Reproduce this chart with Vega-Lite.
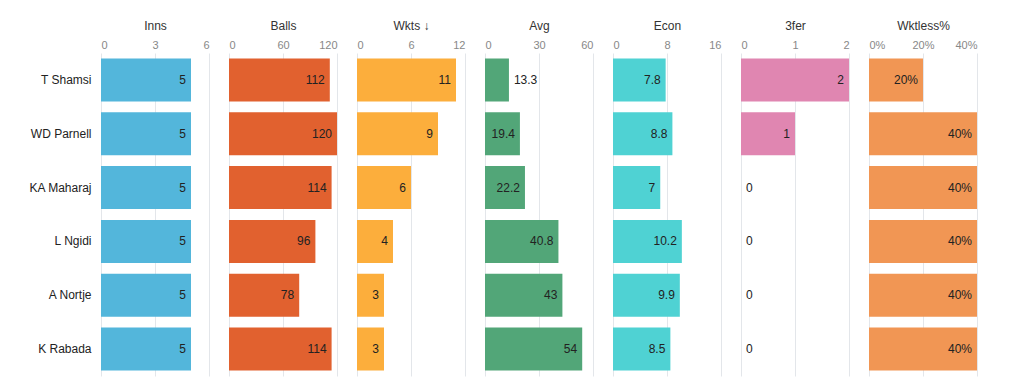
{
  "$schema": "https://vega.github.io/schema/vega-lite/v6.json",
  "padding": {"left": 5, "top": 19, "right": 5, "bottom": 5},
  "data": {"values": [
    {"Player": "T Shamsi", "Inns": 5, "Balls": 112, "Wkts": 11, "Avg": 13.3, "Econ": 7.8, "Threefer": 2, "Wktless": 0.2},
    {"Player": "WD Parnell", "Inns": 5, "Balls": 120, "Wkts": 9, "Avg": 19.4, "Econ": 8.8, "Threefer": 1, "Wktless": 0.4},
    {"Player": "KA Maharaj", "Inns": 5, "Balls": 114, "Wkts": 6, "Avg": 22.2, "Econ": 7, "Threefer": 0, "Wktless": 0.4},
    {"Player": "L Ngidi", "Inns": 5, "Balls": 96, "Wkts": 4, "Avg": 40.8, "Econ": 10.2, "Threefer": 0, "Wktless": 0.4},
    {"Player": "A Nortje", "Inns": 5, "Balls": 78, "Wkts": 3, "Avg": 43, "Econ": 9.9, "Threefer": 0, "Wktless": 0.4},
    {"Player": "K Rabada", "Inns": 5, "Balls": 114, "Wkts": 3, "Avg": 54, "Econ": 8.5, "Threefer": 0, "Wktless": 0.4}
  ]},
  "spacing": 20,
  "hconcat": [
    {
      "width": 108, "height": 323,
      "encoding": {"y": {"field": "Player", "type": "nominal", "sort": null, "axis": {"title": null, "ticks": false, "domain": false, "labelPadding": 10, "labelFontSize": 12, "labelColor": "#222", "minExtent": 96}}},
      "layer": [
        {"mark": {"type": "bar", "color": "#53b6db"}, "encoding": {"x": {"field": "Inns", "type": "quantitative", "scale": {"domain": [0, 6]}, "axis": {"values": [0, 3, 6], "title": "Inns"}}}},
        {"mark": {"type": "text", "align": "right", "dx": -5}, "encoding": {"x": {"field": "Inns", "type": "quantitative"}, "text": {"field": "Inns", "type": "quantitative"}}}
      ]
    },
    {
      "width": 108, "height": 323,
      "encoding": {"y": {"field": "Player", "type": "nominal", "sort": null, "axis": null}},
      "layer": [
        {"mark": {"type": "bar", "color": "#e1612f"}, "encoding": {"x": {"field": "Balls", "type": "quantitative", "scale": {"domain": [0, 120]}, "axis": {"values": [0, 60, 120], "title": "Balls"}}}},
        {"mark": {"type": "text", "align": "right", "dx": -5}, "encoding": {"x": {"field": "Balls", "type": "quantitative"}, "text": {"field": "Balls", "type": "quantitative"}}}
      ]
    },
    {
      "width": 108, "height": 323,
      "encoding": {"y": {"field": "Player", "type": "nominal", "sort": null, "axis": null}},
      "layer": [
        {"mark": {"type": "bar", "color": "#fcae3c"}, "encoding": {"x": {"field": "Wkts", "type": "quantitative", "scale": {"domain": [0, 12]}, "axis": {"values": [0, 6, 12], "title": "Wkts ↓"}}}},
        {"mark": {"type": "text", "align": "right", "dx": -5}, "encoding": {"x": {"field": "Wkts", "type": "quantitative"}, "text": {"field": "Wkts", "type": "quantitative"}}}
      ]
    },
    {
      "width": 108, "height": 323,
      "encoding": {"y": {"field": "Player", "type": "nominal", "sort": null, "axis": null}},
      "layer": [
        {"mark": {"type": "bar", "color": "#52a678"}, "encoding": {"x": {"field": "Avg", "type": "quantitative", "scale": {"domain": [0, 60]}, "axis": {"values": [0, 30, 60], "title": "Avg"}}}},
        {"transform": [{"filter": "datum.Avg >= 15"}], "mark": {"type": "text", "align": "right", "dx": -5}, "encoding": {"x": {"field": "Avg", "type": "quantitative"}, "text": {"field": "Avg", "type": "quantitative"}}},
        {"transform": [{"filter": "datum.Avg < 15"}], "mark": {"type": "text", "align": "left", "dx": 5}, "encoding": {"x": {"field": "Avg", "type": "quantitative"}, "text": {"field": "Avg", "type": "quantitative"}}}
      ]
    },
    {
      "width": 108, "height": 323,
      "encoding": {"y": {"field": "Player", "type": "nominal", "sort": null, "axis": null}},
      "layer": [
        {"mark": {"type": "bar", "color": "#4fd2d3"}, "encoding": {"x": {"field": "Econ", "type": "quantitative", "scale": {"domain": [0, 16]}, "axis": {"values": [0, 8, 16], "title": "Econ"}}}},
        {"mark": {"type": "text", "align": "right", "dx": -5}, "encoding": {"x": {"field": "Econ", "type": "quantitative"}, "text": {"field": "Econ", "type": "quantitative"}}}
      ]
    },
    {
      "width": 108, "height": 323,
      "encoding": {"y": {"field": "Player", "type": "nominal", "sort": null, "axis": null}},
      "layer": [
        {"mark": {"type": "bar", "color": "#e086b1"}, "encoding": {"x": {"field": "Threefer", "type": "quantitative", "scale": {"domain": [0, 2]}, "axis": {"values": [0, 1, 2], "format": ".0f", "title": "3fer"}}}},
        {"transform": [{"filter": "datum.Threefer > 0"}], "mark": {"type": "text", "align": "right", "dx": -5}, "encoding": {"x": {"field": "Threefer", "type": "quantitative"}, "text": {"field": "Threefer", "type": "quantitative"}}},
        {"transform": [{"filter": "datum.Threefer == 0"}], "mark": {"type": "text", "align": "left", "dx": 5}, "encoding": {"x": {"field": "Threefer", "type": "quantitative"}, "text": {"field": "Threefer", "type": "quantitative"}}}
      ]
    },
    {
      "width": 108, "height": 323,
      "encoding": {"y": {"field": "Player", "type": "nominal", "sort": null, "axis": null}},
      "layer": [
        {"mark": {"type": "bar", "color": "#f19654"}, "encoding": {"x": {"field": "Wktless", "type": "quantitative", "scale": {"domain": [0, 0.4]}, "axis": {"values": [0, 0.2, 0.4], "format": ".0%", "title": "Wktless%"}}}},
        {"mark": {"type": "text", "align": "right", "dx": -5}, "encoding": {"x": {"field": "Wktless", "type": "quantitative"}, "text": {"field": "Wktless", "type": "quantitative", "format": ".0%"}}}
      ]
    }
  ],
  "config": {
    "font": "Liberation Sans",
    "view": {"stroke": null},
    "scale": {"bandPaddingInner": 0.2, "bandPaddingOuter": 0.1},
    "axisX": {"orient": "top", "domain": false, "ticks": false, "grid": true, "gridColor": "#e3e6ea", "labelColor": "#888", "labelFontSize": 11, "labelPadding": 3, "labelOverlap": false, "titleFontSize": 12, "titleFontWeight": "normal", "titleColor": "#333", "titlePadding": 7, "labelFlush": true},
    "text": {"fontSize": 12, "color": "#222"}
  }
}
